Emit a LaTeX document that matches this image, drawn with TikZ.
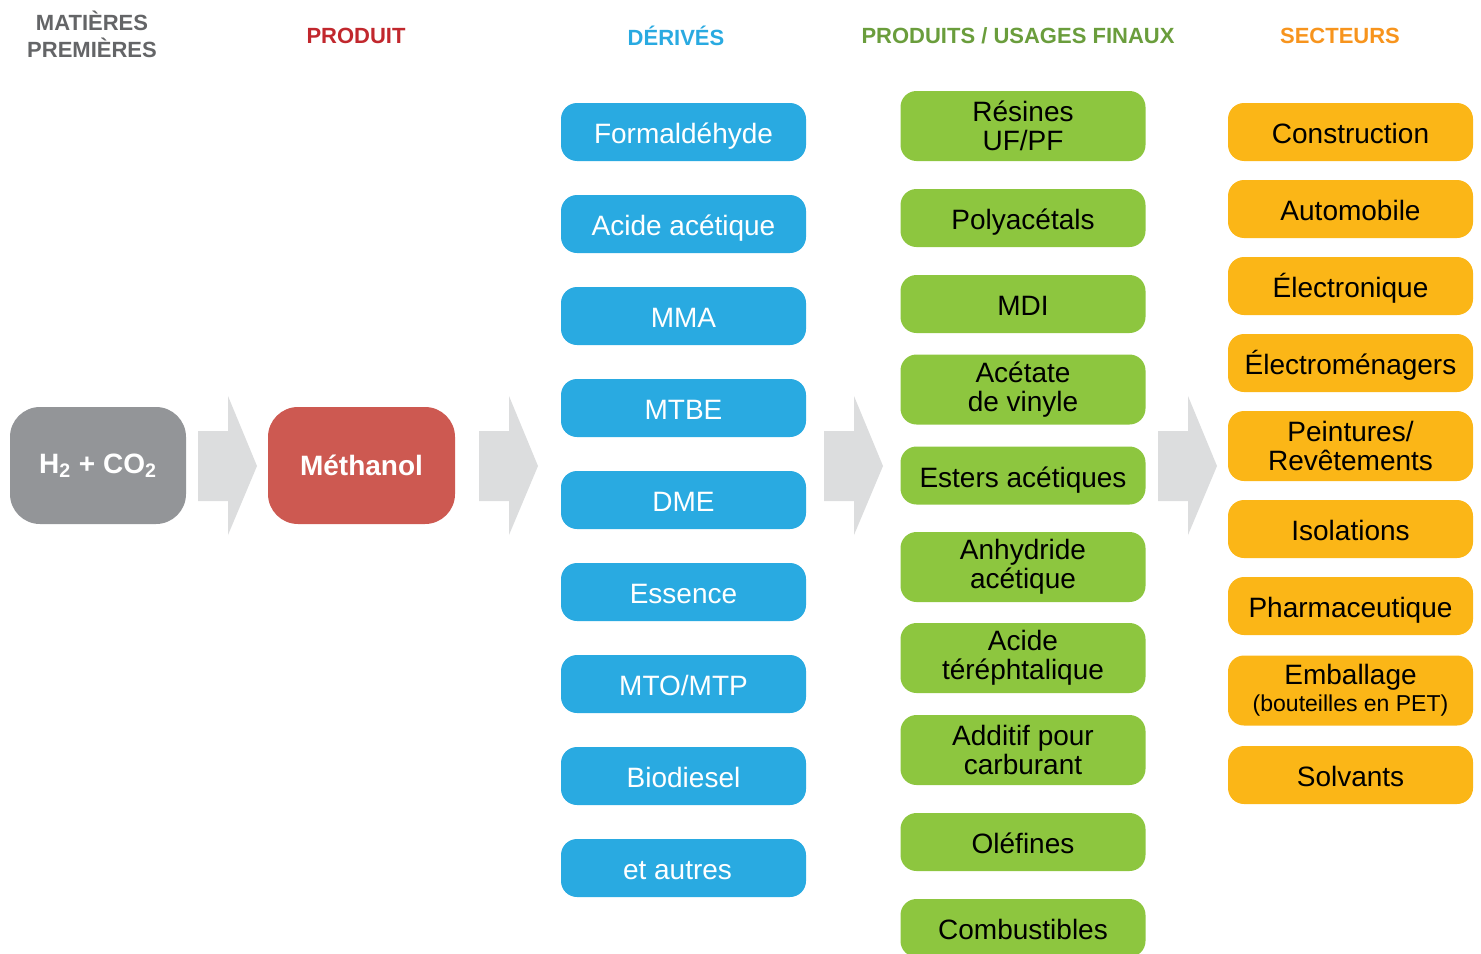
\documentclass[tikz,border=0pt]{standalone}
\usepackage{fontspec}
\setmainfont{Liberation Sans}
\usepackage{xcolor}
\usetikzlibrary{shapes.misc}
\definecolor{rawgray}{HTML}{939598}
\definecolor{methred}{HTML}{CD5951}
\definecolor{derivblue}{HTML}{29AAE1}
\definecolor{usegreen}{HTML}{8DC63F}
\definecolor{sectorange}{HTML}{FBB617}
\definecolor{arrowgray}{HTML}{DCDDDE}
\definecolor{headgray}{HTML}{646567}
\definecolor{headred}{HTML}{C1272D}
\definecolor{headgreen}{HTML}{6A9D3C}
\definecolor{headorange}{HTML}{F7941D}
\newcommand{\flowarrow}[1]{%
	\fill[arrowgray] (#1,431) -- ++(30,0) -- ++(0,-35) -- ++(29,70) -- ++(-29,69) -- ++(0,-34) -- ++(-30,0) -- cycle;
}
\tikzset{
	box/.style={rounded corners=8,inner sep=0pt,minimum width=122.5pt,align=center,font=\fontsize{14}{14.5}\selectfont},
	oneline/.style={minimum height=29pt,text height=14pt,text depth=2.5pt},
	twoline/.style={minimum height=35pt},
	deriv/.style={box,oneline,fill=derivblue,text=white},
	use/.style={box,oneline,fill=usegreen,text=black},
	usetwo/.style={box,twoline,fill=usegreen,text=black},
	sector/.style={box,oneline,fill=sectorange,text=black},
	sectortwo/.style={box,twoline,fill=sectorange,text=black},
	bigbox/.style={rounded corners=15,inner sep=0pt,minimum height=58.5pt,text=white,font=\fontsize{14}{16}\selectfont\bfseries},
	head/.style={font=\fontsize{11}{13.5}\selectfont\bfseries,align=center}
}

\begin{document}
\begin{tikzpicture}[x=0.5pt,y=-0.5pt]
\useasboundingbox (0,0) rectangle (1481,953);

% titres
\node[head,text=headgray] (hraw) at (92,34) {MATIÈRES\\PREMIÈRES};
\node[head,text=headred] (hprod) at (356,36) {PRODUIT};
\node[head,text=derivblue] (hderiv) at (676,36) {DÉRIVÉS};
\node[head,text=headgreen] (huse) at (1018,36) {PRODUITS / USAGES FINAUX};
\node[head,text=headorange] (hsect) at (1340,36) {SECTEURS};

% matieres premieres et produit
\node[bigbox,fill=rawgray,minimum width=88pt] (raw) at (98,465.5) {H\textsubscript{2} + CO\textsubscript{2}};
\node[bigbox,fill=methred,minimum width=93.5pt] (meth) at (361.5,465.5) {Méthanol};

% fleches
\flowarrow{198}
\flowarrow{479}
\flowarrow{824}
\flowarrow{1158}

% derives
\node[deriv] (formald) at (683.5,132) {Formaldéhyde};
\node[deriv] (acetic) at (683.5,224) {Acide acétique};
\node[deriv] (mma) at (683.5,316) {MMA};
\node[deriv] (mtbe) at (683.5,408) {MTBE};
\node[deriv] (dme) at (683.5,500) {DME};
\node[deriv] (essence) at (683.5,592) {Essence};
\node[deriv] (mto) at (683.5,684) {MTO/MTP};
\node[deriv] (biodiesel) at (683.5,776) {Biodiesel};
\node[deriv] (others) at (683.5,868) {et autres\hspace{6pt}};

% produits / usages finaux
\node[usetwo] (resins) at (1023,126) {Résines\\UF/PF};
\node[use] (polyac) at (1023,218) {Polyacétals};
\node[use] (mdi) at (1023,304) {MDI};
\node[usetwo] (vinyl) at (1023,389.5) {Acétate\\de vinyle};
\node[use] (esters) at (1023,475.5) {Esters acétiques};
\node[usetwo] (anhyd) at (1023,567) {Anhydride\\acétique};
\node[usetwo] (tereph) at (1023,658) {Acide\\téréphtalique};
\node[usetwo] (additive) at (1023,750) {Additif pour\\carburant};
\node[use] (olefins) at (1023,842) {Oléfines};
\node[use] (fuels) at (1023,928) {Combustibles};

% secteurs
\node[sector] (constr) at (1350.5,132) {Construction};
\node[sector] (auto) at (1350.5,209) {Automobile};
\node[sector] (electro) at (1350.5,286) {Électronique};
\node[sector] (appliances) at (1350.5,363) {Électroménagers};
\node[sectortwo] (paints) at (1350.5,446) {Peintures/\\Revêtements};
\node[sector] (insul) at (1350.5,529) {Isolations};
\node[sector] (pharma) at (1350.5,606) {Pharmaceutique};
\node[sectortwo] (packing) at (1350.5,690.5) {Emballage\\[-1pt]\fontsize{11.5}{13}\selectfont(bouteilles en PET)};
\node[sector] (solvents) at (1350.5,775) {Solvants};

\end{tikzpicture}
\end{document}
